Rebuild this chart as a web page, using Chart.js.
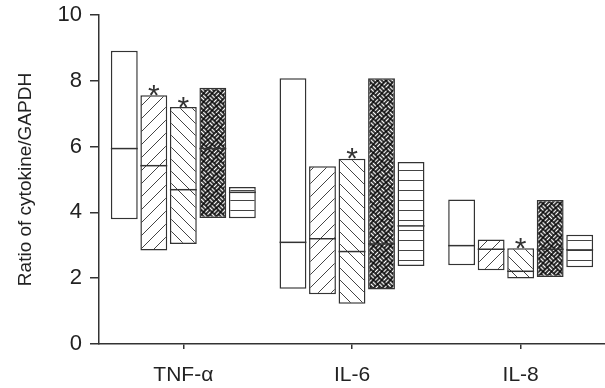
<!DOCTYPE html>
<html>
<head>
<meta charset="utf-8">
<script src="https://cdn.jsdelivr.net/npm/chart.js@4/dist/chart.umd.min.js"></script>
<style>
  html, body { margin: 0; padding: 0; background: #fff; }
  #wrap { width: 605px; height: 388px; }
</style>
</head>
<body>
<div id="wrap"><canvas id="cytokineChart"></canvas></div>
<script>
// Data
const categories = ['TNF-\u03b1', 'IL-6', 'IL-8'];
const seriesMax = [
    [8.91, 8.08, 4.39],
    [7.56, 5.40, 3.18],
    [7.20, 5.63, 2.91],
    [7.79, 8.08, 4.38],
    [4.77, 5.53, 3.32]
];
const seriesMin = [
    [3.79, 1.68, 2.39],
    [2.84, 1.51, 2.24],
    [3.04, 1.22, 1.99],
    [3.83, 1.66, 2.04],
    [3.82, 2.37, 2.33]
];
const seriesMedian = [
    [5.94, 3.09, 2.99],
    [5.42, 3.20, 2.88],
    [4.69, 2.81, 2.21],
    [5.94, 3.04, 2.88],
    [4.61, 3.59, 2.86]
];
// significance marks: [series, category]
const starred = [[1, 0], [2, 0], [2, 1], [2, 2]];
const yTicks = [0, 2, 4, 6, 8, 10];

const FONT = "'Liberation Sans', Arial, sans-serif";
const INK = '#333';

// Hatch fills
function makePattern(kind) {
    const size = kind === 'fwd' ? 13 : kind === 'back' ? 12 : kind === 'horiz' ? 10 : 12;
    const c = document.createElement('canvas');
    c.width = size;
    c.height = size;
    const g = c.getContext('2d');
    g.fillStyle = kind === 'weave' ? '#000' : '#fff';
    g.fillRect(0, 0, size, size);
    g.strokeStyle = kind === 'weave' ? '#fff' : '#444';
    g.lineWidth = kind === 'weave' ? 1.4 : 1;
    g.beginPath();
    if (kind === 'fwd') {
        g.moveTo(-1, size + 1); g.lineTo(size + 1, -1);
        g.moveTo(-1, 1); g.lineTo(1, -1);
        g.moveTo(size - 1, size + 1); g.lineTo(size + 1, size - 1);
    } else if (kind === 'back') {
        g.moveTo(-1, -1); g.lineTo(size + 1, size + 1);
        g.moveTo(size - 1, -1); g.lineTo(size + 1, 1);
        g.moveTo(-1, size - 1); g.lineTo(1, size + 1);
    } else if (kind === 'horiz') {
        g.moveTo(0, 0.5); g.lineTo(size, 0.5);
    } else if (kind === 'weave') {
        // basket weave, rotated below
        g.moveTo(0.8, 1.5); g.lineTo(5.2, 1.5);
        g.moveTo(0.8, 4.5); g.lineTo(5.2, 4.5);
        g.moveTo(7.5, 0.8); g.lineTo(7.5, 5.2);
        g.moveTo(10.5, 0.8); g.lineTo(10.5, 5.2);
        g.moveTo(1.5, 6.8); g.lineTo(1.5, 11.2);
        g.moveTo(4.5, 6.8); g.lineTo(4.5, 11.2);
        g.moveTo(6.8, 7.5); g.lineTo(11.2, 7.5);
        g.moveTo(6.8, 10.5); g.lineTo(11.2, 10.5);
    }
    g.stroke();
    const p = g.createPattern(c, 'repeat');
    if (kind === 'weave' && p.setTransform) {
        p.setTransform(new DOMMatrix().rotate(45));
    }
    return p;
}

const fills = ['#fff', makePattern('fwd'), makePattern('back'), makePattern('weave'), makePattern('horiz')];

// median lines and stars drawn on top of bars
const markPlugin = {
    id: 'marks',
    afterDatasetsDraw(chart) {
        const ctx = chart.ctx;
        const yScale = chart.scales.y;
        ctx.save();
        ctx.strokeStyle = INK;
        ctx.lineWidth = 1.5;
        seriesMedian.forEach((meds, s) => {
            const meta = chart.getDatasetMeta(s);
            meds.forEach((m, i) => {
                const bar = meta.data[i];
                const y = yScale.getPixelForValue(m);
                ctx.beginPath();
                ctx.moveTo(bar.x - bar.width / 2, y);
                ctx.lineTo(bar.x + bar.width / 2, y);
                ctx.stroke();
            });
        });
        ctx.fillStyle = INK;
        ctx.font = "30px 'Liberation Sans', Arial, sans-serif";
        ctx.textAlign = 'center';
        ctx.textBaseline = 'alphabetic';
        starred.forEach(([s, i]) => {
            const bar = chart.getDatasetMeta(s).data[i];
            const y = yScale.getPixelForValue(seriesMax[s][i]);
            ctx.fillText('*', bar.x, y + 9.5);
        });
        ctx.restore();
    }
};

const datasets = seriesMax.map((maxes, s) => ({
    label: 'Group ' + (s + 1),
    data: maxes.map((hi, i) => [seriesMin[s][i], hi]),
    backgroundColor: fills[s],
    borderColor: INK,
    borderWidth: 1.5,
    borderSkipped: false,
    categoryPercentage: 0.875,
    barPercentage: 0.91
}));

new Chart(document.getElementById('cytokineChart'), {
    type: 'bar',
    data: { labels: categories, datasets: datasets },
    options: {
        responsive: true,
        maintainAspectRatio: false,
        animation: false,
        layout: { padding: { top: 15, right: -4, left: 0, bottom: 0 } },
        plugins: {
            legend: { display: false },
            tooltip: { enabled: false }
        },
        scales: {
            x: {
                afterFit: (scale) => { scale.height = 44; },
                grid: { drawOnChartArea: false, offset: false, tickLength: 5, color: INK, lineWidth: 1.5 },
                border: { color: INK, width: 1.5 },
                ticks: { color: '#222', font: { family: FONT, size: 21 }, padding: 14 }
            },
            y: {
                min: 0,
                max: 10,
                afterFit: (scale) => { scale.width = 99; scale.paddingTop = 0; },
                afterBuildTicks: (scale) => { scale.ticks = yTicks.map(v => ({ value: v })); },
                grid: { drawOnChartArea: false, tickLength: 9, color: INK, lineWidth: 1.5 },
                border: { color: INK, width: 1.5 },
                ticks: { color: '#222', font: { family: FONT, size: 22 }, padding: 8 },
                title: {
                    display: true,
                    text: 'Ratio of cytokine/GAPDH',
                    color: '#222',
                    font: { family: FONT, size: 19 },
                    padding: { top: 14, bottom: 0 }
                }
            }
        }
    },
    plugins: [markPlugin]
});
</script>
</body>
</html>
